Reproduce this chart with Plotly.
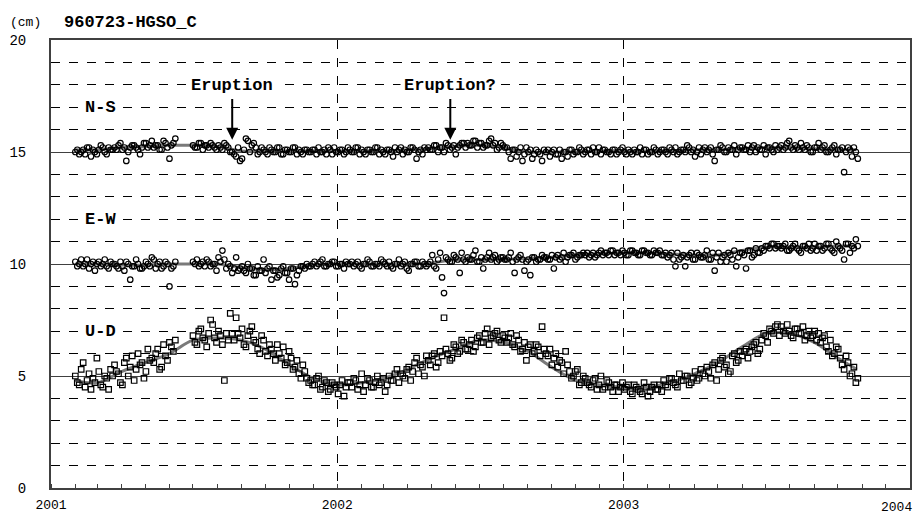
import pandas as pd
import plotly.graph_objects as go

# ---------------- data (two interleaved 5-day samplings) ----------------
start_a = "2001-02-01"
start_b = "2001-02-03 12:00"
step = "5D"

ns_values = [
    15.0, 14.9, 15.1, 15.2, 14.8, 15.0, 15.1, 15.2, 14.9, 15.1,
    15.2, 15.3, 15.1, 14.6, 15.2, 15.3, 15.1, 15.2, 15.4, 15.3,
    15.2, 15.3, 15.1, 15.4, 14.7, 15.4, None, None, None, None,
    15.3, 15.2, 15.4, 15.3, 15.2, 15.3, 15.1, 15.2, 15.4, 15.2,
    15.0, 14.8, 14.6, 15.1, 15.5, 15.3, 15.2, 15.0, 15.1, 14.9,
    15.1, 15.0, 15.2, 14.9, 15.1, 15.0, 15.2, 15.1, 14.9, 15.1,
    15.0, 15.1, 15.2, 15.0, 14.9, 15.1, 15.2, 15.0, 15.1, 15.0,
    15.1, 15.0, 15.2, 15.1, 14.9, 15.1, 15.0, 15.2, 15.1, 14.9,
    15.1, 14.8, 15.0, 15.2, 15.1, 15.0, 15.2, 14.7, 15.1, 15.2,
    15.2, 15.1, 15.3, 15.2, 15.0, 15.3, 15.2, 14.9, 15.3, 15.4,
    15.4, 15.3, 15.5, 15.4, 15.2, 15.3, 15.6, 15.4, 15.2, 15.3,
    15.2, 14.7, 15.1, 15.0, 14.6, 15.2, 15.1, 14.9, 15.0, 14.6,
    15.0, 14.8, 15.1, 14.9, 14.7, 15.0, 15.1, 14.9, 15.0, 15.1,
    15.0, 15.1, 15.2, 15.0, 14.9, 15.1, 15.0, 15.1, 14.9, 15.1,
    15.0, 15.1, 14.9, 15.0, 15.2, 15.1, 14.9, 15.0, 15.1, 15.0,
    15.1, 14.9, 15.1, 15.2, 15.0, 15.1, 15.3, 15.0, 14.8, 15.2,
    15.1, 15.0, 15.2, 14.6, 15.1, 15.2, 15.0, 15.1, 15.3, 15.1,
    15.2, 15.1, 15.0, 15.3, 15.2, 15.1, 14.9, 15.2, 15.0, 15.1,
    15.3, 15.2, 15.5, 15.1, 15.2, 15.4, 15.1, 15.2, 15.0, 15.2,
    15.1, 15.3, 15.0, 15.2, 14.9, 15.1, 14.1, 15.2, 14.8, 15.0,
]
ns_values_b = [
    15.1, 15.0, 14.9, 15.2, 15.1, 14.9, 15.3, 15.0, 15.2, 15.1,
    15.1, 15.4, 15.2, 15.0, 15.3, 15.2, 14.9, 15.4, 15.2, 15.5,
    15.3, 15.1, 15.5, 15.2, 15.3, 15.6, None, None, None, None,
    15.2, 15.4, 15.1, 15.3, 15.4, 15.2, 15.3, 15.1, 15.3, 15.0,
    14.9, 15.2, 14.7, 15.6, 15.0, 15.4, 14.9, 15.2, 15.0, 15.2,
    15.0, 15.2, 14.9, 15.1, 15.0, 15.2, 14.9, 15.0, 15.1, 15.0,
    15.1, 14.9, 15.0, 15.1, 15.2, 14.9, 15.0, 15.1, 14.9, 15.2,
    15.0, 15.2, 14.9, 15.0, 15.1, 15.0, 15.2, 14.9, 15.0, 15.1,
    15.0, 15.2, 15.1, 14.9, 15.0, 15.2, 15.1, 15.0, 14.9, 15.1,
    15.1, 15.3, 15.0, 15.2, 15.4, 15.1, 15.3, 15.2, 15.4, 15.2,
    15.3, 15.5, 15.2, 15.4, 15.3, 15.5, 15.3, 15.1, 15.4, 15.2,
    15.0, 15.1, 14.8, 15.2, 14.9, 15.0, 14.7, 15.1, 14.9, 15.1,
    15.1, 15.0, 14.9, 15.1, 15.0, 14.8, 15.1, 15.0, 15.2, 14.9,
    15.1, 14.9, 15.0, 15.2, 15.1, 15.0, 14.9, 15.1, 15.0, 15.2,
    14.9, 15.0, 15.1, 15.0, 14.9, 15.1, 15.0, 15.2, 14.9, 15.1,
    15.0, 15.2, 15.0, 14.9, 15.1, 15.0, 15.2, 15.1, 15.0, 14.9,
    15.2, 15.1, 14.9, 15.1, 15.3, 15.0, 15.2, 15.1, 14.9, 15.2,
    15.1, 15.3, 15.2, 15.0, 15.1, 15.3, 15.2, 15.1, 15.3, 15.2,
    15.1, 15.4, 15.2, 15.3, 15.1, 15.2, 15.3, 15.0, 15.2, 15.4,
    15.2, 15.0, 15.1, 15.3, 15.1, 15.2, 15.0, 15.1, 15.2, 14.7,
]

ew_values = [
    10.1, 10.0, 9.9, 10.2, 10.0, 9.7, 10.1, 10.0, 9.9, 10.1,
    10.0, 9.8, 9.9, 10.1, 9.3, 9.9, 10.0, 9.8, 10.1, 9.9,
    10.2, 10.0, 9.8, 10.1, 9.0, 9.9, None, None, None, None,
    10.1, 10.2, 10.0, 9.9, 10.1, 10.0, 9.7, 10.1, 10.2, 10.0,
    9.6, 10.3, 9.8, 9.7, 10.0, 9.8, 9.5, 9.7, 10.2, 9.8,
    9.3, 9.7, 9.5, 9.9, 9.6, 9.8, 9.1, 9.7, 9.9, 10.0,
    9.9, 10.1, 10.0, 10.2, 9.9, 10.0, 10.1, 9.9, 10.0, 10.1,
    10.0, 9.9, 10.1, 9.8, 10.0, 10.1, 9.9, 10.0, 10.2, 10.0,
    10.1, 9.8, 10.0, 9.9, 10.1, 9.7, 10.0, 10.1, 9.9, 10.0,
    10.0, 10.4, 9.8, 10.5, 8.7, 10.2, 10.1, 10.3, 9.6, 10.2,
    10.3, 10.2, 10.6, 10.1, 9.8, 10.3, 10.2, 10.4, 10.2, 10.3,
    10.2, 10.5, 9.6, 10.3, 10.2, 10.1, 9.5, 10.3, 10.2, 10.4,
    10.3, 10.2, 9.8, 10.4, 10.3, 10.1, 10.4, 10.5, 10.3, 10.4,
    10.4, 10.3, 10.5, 10.4, 10.6, 10.5, 10.4, 10.6, 10.5, 10.4,
    10.5, 10.4, 10.6, 10.5, 10.4, 10.6, 10.5, 10.4, 10.5, 10.6,
    10.4, 10.3, 10.5, 9.9, 10.2, 10.4, 10.3, 10.5, 10.2, 10.4,
    10.3, 10.6, 10.2, 9.7, 10.5, 10.3, 10.1, 10.4, 10.6, 10.3,
    10.5, 9.8, 10.6, 10.4, 10.5, 10.7, 10.8, 10.7, 10.9, 10.8,
    10.7, 10.9, 10.6, 10.8, 10.7, 10.5, 10.8, 10.9, 10.7, 10.6,
    10.8, 10.7, 10.9, 10.6, 11.0, 10.7, 10.2, 10.9, 10.8, 11.1,
]
ew_values_b = [
    9.9, 10.2, 10.0, 9.8, 10.1, 10.0, 9.9, 10.2, 9.8, 10.0,
    9.9, 10.1, 9.7, 10.0, 9.9, 10.2, 9.8, 9.9, 10.0, 10.3,
    9.8, 10.1, 9.9, 10.0, 9.8, 10.1, None, None, None, None,
    10.0, 9.9, 10.1, 10.2, 9.9, 10.0, 10.3, 10.6, 9.8, 9.9,
    9.8, 9.7, 9.9, 9.6, 9.8, 9.5, 9.9, 9.7, 9.6, 9.9,
    9.7, 9.4, 9.8, 9.6, 9.3, 9.8, 9.5, 9.9, 9.8, 9.9,
    10.0, 9.9, 10.1, 9.9, 10.0, 10.1, 9.9, 10.0, 9.8, 10.0,
    10.1, 10.0, 9.9, 10.0, 10.2, 9.9, 10.0, 9.9, 10.1, 9.9,
    9.9, 10.0, 10.2, 10.0, 9.8, 10.0, 10.1, 9.9, 10.1, 9.9,
    10.1, 9.9, 10.2, 9.4, 10.3, 10.1, 10.4, 10.2, 10.5, 10.1,
    10.2, 10.4, 10.1, 10.3, 10.2, 10.5, 10.3, 10.1, 10.3, 10.2,
    10.3, 10.1, 10.2, 10.4, 9.7, 10.2, 10.3, 10.1, 10.2, 10.3,
    10.2, 10.4, 10.3, 10.2, 10.5, 10.3, 10.4, 10.2, 10.4, 10.5,
    10.5, 10.4, 10.3, 10.5, 10.4, 10.5, 10.6, 10.4, 10.5, 10.6,
    10.4, 10.6, 10.5, 10.4, 10.6, 10.5, 10.4, 10.6, 10.5, 10.4,
    10.5, 10.4, 10.2, 10.5, 10.3, 9.9, 10.4, 10.2, 10.5, 10.3,
    10.4, 10.2, 10.5, 10.3, 10.1, 10.4, 10.5, 10.2, 9.9, 10.5,
    10.4, 10.6, 10.3, 10.7, 10.5, 10.6, 10.8, 10.9, 10.7, 10.8,
    10.8, 10.6, 10.7, 10.9, 10.6, 10.8, 10.7, 10.6, 10.9, 10.8,
    10.6, 10.9, 10.7, 10.5, 10.8, 10.6, 10.9, 10.5, 10.7, 10.8,
]

ud_values = [
    5.0, 4.6, 5.6, 4.8, 4.4, 4.7, 5.2, 4.5, 4.9, 5.3,
    5.5, 5.1, 4.6, 5.8, 5.4, 4.8, 6.0, 5.6, 5.2, 5.7,
    5.6, 6.2, 5.4, 5.9, 6.5, 6.1, None, None, None, None,
    6.8, 6.4, 7.1, 6.6, 6.9, 7.3, 6.5, 6.8, 4.8, 6.6,
    6.9, 7.6, 6.7, 6.4, 6.8, 7.2, 6.5, 6.0, 6.6, 5.9,
    6.2, 5.7, 6.0, 6.3, 5.6, 5.8, 5.4, 5.1, 5.5, 4.9,
    4.8, 4.6, 5.0, 4.5, 4.7, 4.4, 4.6, 4.2, 4.8, 4.5,
    4.7, 4.9, 4.4, 5.1, 4.6, 4.8, 4.5, 5.0, 4.7, 4.3,
    5.0, 4.8, 5.3, 5.1, 4.9, 5.4, 5.2, 5.8, 5.5, 5.0,
    5.7, 5.9, 5.4, 6.1, 7.6, 6.0, 5.8, 6.3, 6.1, 6.5,
    6.2, 6.6, 6.3, 6.8, 6.5, 7.1, 6.7, 6.9, 6.6, 6.8,
    6.5, 6.9, 6.3, 6.6, 6.2, 5.7, 6.4, 6.1, 6.3, 7.2,
    6.0, 6.2, 5.8, 5.4, 5.6, 6.1, 5.2, 5.0, 5.3, 4.7,
    4.9, 4.6, 4.8, 4.4, 5.0, 4.5, 4.7, 4.3, 4.6, 4.5,
    4.4, 4.6, 4.2, 4.5, 4.3, 4.7, 4.1, 4.5, 4.4, 4.6,
    4.8, 4.5, 4.9, 4.6, 5.1, 4.8, 5.0, 4.7, 5.2, 4.9,
    5.1, 5.4, 4.9, 5.6, 5.3, 5.8, 5.5, 5.2, 6.0, 5.7,
    5.9, 6.2, 6.1, 6.4, 6.0, 6.6, 6.8, 7.1, 6.9, 7.3,
    7.2, 6.9, 7.0, 6.7, 7.1, 6.9, 6.6, 7.0, 6.8, 6.6,
    6.5, 6.8, 6.1, 5.9, 6.3, 5.8, 5.3, 5.6, 5.1, 4.7,
]
ud_values_b = [
    4.7, 5.3, 4.5, 5.1, 4.9, 5.8, 4.6, 5.0, 4.4, 5.0,
    5.2, 4.7, 5.6, 5.0, 5.9, 5.3, 5.5, 4.9, 6.2, 5.8,
    6.0, 5.3, 6.4, 5.7, 6.3, 6.6, None, None, None, None,
    6.5, 7.0, 6.7, 6.3, 7.5, 6.7, 7.0, 6.4, 6.9, 7.8,
    6.6, 6.9, 7.1, 6.3, 7.0, 6.6, 6.2, 6.8, 6.1, 6.4,
    6.0, 6.4, 5.8, 5.5, 6.1, 5.3, 5.7, 4.9, 5.2, 4.7,
    4.6, 4.9, 4.4, 4.8, 4.3, 4.7, 4.5, 4.6, 4.1, 4.7,
    4.5, 4.8, 4.6, 4.3, 4.9, 4.5, 4.7, 4.6, 4.9, 4.6,
    4.8, 5.1, 4.7, 5.0, 5.3, 4.8, 5.6, 5.1, 5.4, 5.9,
    5.5, 6.0, 5.6, 5.9, 6.2, 5.7, 6.4, 6.0, 6.6, 6.2,
    6.4, 6.1, 6.7, 6.5, 6.9, 6.4, 6.8, 7.0, 6.5, 6.7,
    6.7, 6.4, 6.8, 6.1, 6.5, 6.3, 6.0, 6.4, 5.9, 6.2,
    5.9, 5.5, 6.0, 5.7, 5.1, 5.5, 4.9, 5.2, 4.6, 5.0,
    4.7, 4.5, 4.9, 4.6, 4.4, 4.8, 4.5, 4.6, 4.3, 4.7,
    4.5, 4.3, 4.6, 4.4, 4.2, 4.5, 4.3, 4.6, 4.4, 4.3,
    4.6, 4.9, 4.7, 4.5, 4.8, 5.0, 4.6, 4.9, 4.8, 5.3,
    5.0, 5.2, 5.5, 4.8, 5.7, 5.4, 5.1, 5.9, 5.6, 6.1,
    6.1, 5.8, 6.3, 6.5, 6.2, 6.9, 6.5, 7.0, 7.2, 6.8,
    7.0, 7.3, 6.8, 7.1, 6.9, 7.2, 6.8, 6.7, 7.0, 6.9,
    6.7, 6.3, 6.6, 6.0, 6.2, 5.5, 5.9, 5.0, 5.4, 4.9,
]

trend_dates = [
    "2001-02-01", "2001-03-01", "2001-04-01", "2001-05-01", "2001-06-01",
    "2001-07-01", "2001-08-01", "2001-09-01", "2001-10-01", "2001-11-01",
    "2001-12-01", "2002-01-01", "2002-02-01", "2002-03-01", "2002-04-01",
    "2002-05-01", "2002-06-01", "2002-07-01", "2002-08-01", "2002-09-01",
    "2002-10-01", "2002-11-01", "2002-12-01", "2003-01-01", "2003-02-01",
    "2003-03-01", "2003-04-01", "2003-05-01", "2003-06-01", "2003-07-01",
    "2003-08-01", "2003-09-01", "2003-10-01", "2003-10-25",
]
ns_trend = [15.1, 15.1, 15.2, 15.25, 15.3, 15.3, 15.25, 15.05, 15.05, 15.05,
            15.05, 15.05, 15.05, 15.05, 15.1, 15.15, 15.25, 15.3, 15.2, 15.0,
            15.0, 15.0, 15.05, 15.05, 15.05, 15.05, 15.1, 15.1, 15.15, 15.2,
            15.2, 15.15, 15.1, 15.1]
ew_trend = [10.0, 10.0, 9.95, 9.95, 10.0, 10.0, 10.0, 9.85, 9.75, 9.8,
            9.95, 10.0, 10.0, 10.0, 10.0, 10.05, 10.2, 10.2, 10.2, 10.25,
            10.3, 10.4, 10.45, 10.5, 10.5, 10.45, 10.4, 10.4, 10.6, 10.75,
            10.75, 10.75, 10.8, 10.8]
ud_trend = [4.8, 4.7, 5.2, 5.6, 6.0, 6.6, 6.7, 6.6, 6.2, 5.5,
            4.9, 4.6, 4.7, 4.9, 5.3, 5.8, 6.2, 6.6, 6.5, 6.1,
            5.4, 4.8, 4.6, 4.5, 4.5, 4.7, 5.1, 5.6, 6.3, 6.9,
            6.9, 6.5, 5.8, 5.3]

series_labels = ["N-S", "E-W", "U-D"]
label_levels = [17, 12, 7]
eruption_texts = ["Eruption", "Eruption?"]
eruption_dates = ["2001-08-20", "2002-05-25"]
y_ticks = [0, 5, 10, 15, 20]
x_ticks = ["2001-01-01", "2002-01-01", "2003-01-01"]
x_tick_text = ["2001", "2002", "2003"]
last_x_tick_text = "2004"

# ---------------- figure ----------------
dates_a = pd.date_range(start_a, periods=len(ns_values), freq=step)
dates_b = pd.date_range(start_b, periods=len(ns_values_b), freq=step)
td = pd.to_datetime(trend_dates)

fig = go.Figure()
for tr in (ud_trend, ew_trend, ns_trend):
    fig.add_trace(go.Scatter(x=td, y=tr, mode="lines",
                             line=dict(color="#7a7a7a", width=3, shape="spline"),
                             hoverinfo="skip"))

series = [(ud_values, ud_values_b, "square-open"),
          (ew_values, ew_values_b, "circle-open"),
          (ns_values, ns_values_b, "circle-open")]
for va, vb, sym in series:
    for d, v in ((dates_a, va), (dates_b, vb)):
        fig.add_trace(go.Scatter(x=d, y=v, mode="markers",
                                 marker=dict(symbol=sym, size=5.5, color="black",
                                             line=dict(width=1.2, color="black"))))

mono = "Liberation Mono"
annotations = []
for txt, lv in zip(series_labels, label_levels):
    annotations.append(dict(x="2001-03-05", y=lv, xref="x", yref="y", text=f"<b>{txt}</b>",
                            showarrow=False, bgcolor="white", borderpad=3,
                            font=dict(family=mono, size=17, color="black")))
for txt, d in zip(eruption_texts, eruption_dates):
    annotations.append(dict(x=d, y=15.55, ax=d, ay=17.95, xref="x", yref="y",
                            axref="x", ayref="y", text=f"<b>{txt}</b>",
                            showarrow=True, arrowhead=2, arrowsize=1.2, arrowwidth=2,
                            arrowcolor="black", bgcolor="white", borderpad=3,
                            font=dict(family=mono, size=17, color="black")))
annotations.append(dict(x=-0.05, y=1.04, xref="paper", yref="paper", text="(cm)",
                        showarrow=False, xanchor="left", yanchor="middle",
                        font=dict(family=mono, size=13, color="black")))
annotations.append(dict(x=0.013, y=1.04, xref="paper", yref="paper",
                        text="<b>960723-HGSO_C</b>", showarrow=False,
                        xanchor="left", yanchor="middle",
                        font=dict(family=mono, size=17, color="black")))
# last year label, kept inside the page
annotations.append(dict(x=1, y=0, xref="paper", yref="paper", text=last_x_tick_text,
                        showarrow=False, xanchor="right", yanchor="middle",
                        xshift=4, yshift=-19,
                        font=dict(family=mono, size=13, color="black")))

# page body has an 8px margin, so the canvas is offset by (8, 8)
fig.update_layout(
    width=916, height=506,
    margin=dict(l=43, r=14, t=32, b=26),
    paper_bgcolor="white", plot_bgcolor="white",
    showlegend=False,
    annotations=annotations,
    xaxis=dict(type="date", range=["2001-01-01", "2004-01-01"], automargin=False,
               tickvals=pd.to_datetime(x_ticks), ticktext=x_tick_text,
               showgrid=True, gridcolor="black", griddash="dash", gridwidth=1,
               showline=True, linecolor="#404040", linewidth=2, mirror=True,
               ticks="", ticklabelstandoff=3, ticklabeloverflow="allow",
               minor=dict(dtick="M1", ticks="inside", ticklen=4, tickcolor="#404040",
                          showgrid=False),
               tickfont=dict(family=mono, size=13, color="black"), zeroline=False),
    yaxis=dict(range=[0, 20], tickvals=y_ticks, automargin=False,
               showgrid=True, gridcolor="#404040", gridwidth=1,
               showline=True, linecolor="#404040", linewidth=2, mirror=True,
               ticks="", ticklabelstandoff=20,
               minor=dict(dtick=1, showgrid=True, gridcolor="black", griddash="dash",
                          gridwidth=1),
               tickfont=dict(family=mono, size=14, color="black"), zeroline=False),
)

fig.write_html("out.html")
